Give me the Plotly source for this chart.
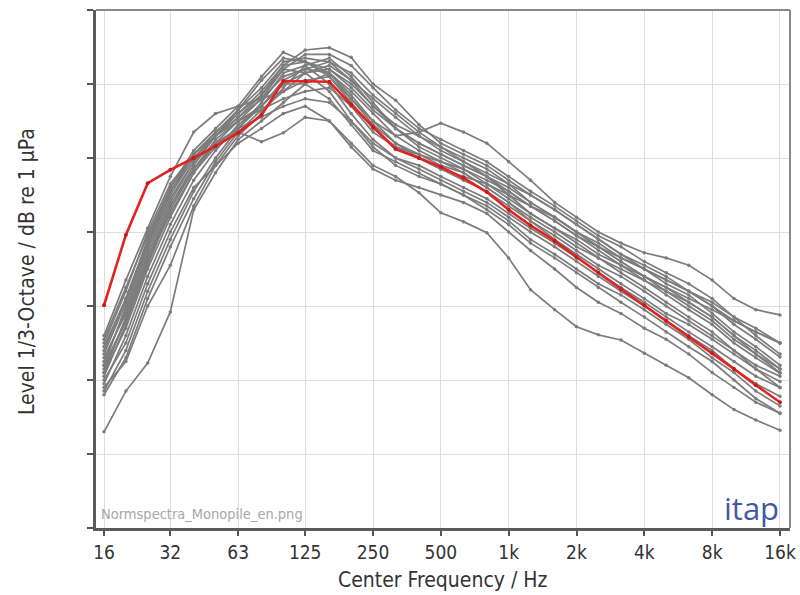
import plotly.graph_objects as go

freqs = [16, 20, 25, 31.5, 40, 50, 63, 80, 100, 125, 160, 200, 250, 315, 400, 500,
         630, 800, 1000, 1250, 1600, 2000, 2500, 3150, 4000, 5000, 6300, 8000, 10000, 12500, 16000]

tick_vals = [16, 31.5, 63, 125, 250, 500, 1000, 2000, 4000, 8000, 16000]
tick_text = ["16", "32", "63", "125", "250", "500", "1k", "2k", "4k", "8k", "16k"]

# mean / normalized spectrum (red)
norm_spectrum = [130.1, 139.6, 146.6, 148.4, 150.0, 151.6, 153.4, 155.8, 160.4, 160.4, 160.3, 157.2,
                 154.2, 151.2, 150.0, 148.8, 147.3, 145.4, 143.0, 140.9, 138.8, 136.6, 134.5, 132.3,
                 130.1, 128.0, 125.8, 123.6, 121.5, 119.3, 117.0]

# individual measured spectra (gray)
g01 = [113.0,118.5,122.3,129.2,143.0,148.0,152.5,155.0,157.5,160.0,161.5,158.5,155.0,152.0,150.0,148.5,147.0,145.5,143.5,141.5,139.5,137.5,135.5,134.0,132.0,130.0,128.0,126.0,124.0,122.0,120.5]
g02 = [119.0,122.5,130.0,135.5,143.5,149.0,153.0,156.0,159.5,162.5,163.5,161.0,157.5,154.0,151.5,150.0,148.5,146.5,144.5,142.5,140.5,139.0,137.0,135.5,134.0,132.0,130.5,128.5,126.0,124.0,121.5]
g03 = [122.0,130.0,138.0,145.0,150.0,153.0,155.5,158.0,161.0,162.0,161.5,158.0,155.0,153.0,153.5,154.7,153.5,152.0,149.5,147.0,144.0,142.0,140.0,138.5,137.2,136.5,135.5,133.5,131.0,129.5,128.8]
g04 = [120.0,125.0,133.0,140.0,146.0,149.0,152.0,154.0,156.0,157.0,155.0,152.0,149.0,147.5,145.3,142.6,141.4,139.9,136.5,132.2,129.5,127.2,126.1,125.4,123.6,122.0,120.3,118.0,116.0,114.6,113.2]
g05 = [124.0,131.0,139.0,146.0,151.0,154.0,157.0,161.0,164.3,163.0,162.0,160.0,157.0,154.0,152.0,150.5,149.0,147.5,145.5,143.5,141.5,139.5,137.5,135.5,133.5,131.5,129.5,127.5,125.0,123.0,120.9]
g06 = [121.5,128.0,136.0,143.5,149.0,153.0,156.0,159.0,162.5,164.6,164.9,163.6,160.0,157.8,154.5,152.0,150.5,149.0,147.0,145.0,143.0,141.0,139.0,137.0,135.0,133.5,132.0,130.0,127.5,125.5,123.1]
g07 = [123.0,129.0,137.0,144.0,149.5,152.0,153.5,152.2,153.4,155.5,155.0,151.5,148.5,147.0,146.0,145.0,144.0,142.5,140.0,137.5,135.0,132.5,130.5,129.0,127.0,125.5,123.5,121.0,119.0,117.0,115.5]
g08 = [125.0,132.0,140.0,146.5,150.5,153.5,156.5,159.5,163.0,163.5,163.0,160.5,157.0,154.5,153.0,151.5,150.0,148.5,146.5,144.0,142.0,140.0,138.5,136.5,135.0,133.5,132.0,130.5,128.5,127.0,125.0]
g09 = [118.5,124.0,132.0,139.0,145.5,150.0,154.0,157.5,161.5,162.5,160.0,156.0,152.5,150.0,148.5,147.0,145.5,144.0,142.0,140.0,138.0,136.0,134.0,132.0,130.0,128.0,126.0,124.0,121.5,119.5,117.8]
g10 = [121.0,127.0,135.0,142.0,148.0,152.0,155.0,158.0,162.0,161.5,159.0,155.0,151.5,149.0,147.5,146.5,145.0,143.5,141.5,139.0,137.0,135.0,133.0,131.5,129.5,127.5,125.5,123.0,121.0,118.5,116.5]
g11 = [126.0,133.5,140.5,147.5,153.5,156.0,157.0,158.0,159.0,161.5,162.5,160.5,158.0,155.5,153.0,151.0,149.5,148.0,146.5,145.0,143.0,141.0,139.0,137.0,135.5,134.0,132.0,130.0,128.0,126.5,125.0]
g12 = [119.5,126.0,134.0,141.0,147.0,151.0,154.5,157.0,160.0,160.0,158.0,154.5,151.0,149.5,148.0,146.5,145.0,143.0,141.0,138.5,136.5,134.5,132.5,130.5,128.5,126.5,124.5,122.5,120.0,117.5,115.5]
g13 = [122.5,129.5,137.5,144.5,149.5,153.0,156.5,160.5,163.5,163.0,161.0,157.5,154.0,151.5,150.0,148.5,147.5,146.5,145.0,143.5,141.5,139.5,138.0,136.5,135.0,133.0,131.5,129.0,126.5,124.5,122.0]
g14 = [120.5,127.5,135.5,143.0,148.5,152.5,155.0,156.5,158.0,159.0,159.5,157.0,153.5,151.5,150.5,149.5,148.5,147.0,145.5,143.5,142.0,140.0,138.0,136.0,134.0,132.5,131.0,129.5,128.0,126.5,125.0]
g15 = [124.5,131.0,138.5,145.5,150.0,153.0,155.0,157.0,160.5,162.0,163.0,161.5,158.5,156.0,153.5,151.5,149.5,147.5,145.0,142.5,140.5,138.5,136.5,134.5,132.5,130.5,128.5,126.5,124.0,121.5,119.0]
g16 = [118.0,123.0,131.0,138.0,144.5,149.5,153.5,156.5,159.0,160.5,161.0,158.0,154.5,152.0,150.5,149.0,148.0,146.0,144.0,142.0,140.0,138.0,136.5,135.0,133.5,132.0,130.0,128.0,125.5,123.5,121.0]
g17 = [123.5,130.5,138.5,145.5,150.5,153.5,156.0,158.5,162.0,164.0,164.0,162.5,159.5,156.5,154.0,152.5,151.0,149.5,147.5,145.5,143.5,141.5,139.5,138.0,136.0,134.5,133.0,131.0,128.5,126.0,123.5]
g18 = [121.0,128.5,136.5,143.5,148.5,152.0,154.0,155.5,157.0,158.0,157.5,155.0,152.0,150.0,149.0,147.5,146.0,144.5,142.5,140.5,138.5,136.5,134.5,132.5,130.5,128.5,126.5,124.5,122.5,120.5,119.0]
g19 = [125.5,132.5,139.5,146.0,150.5,153.0,155.5,158.5,162.5,163.0,161.5,159.0,156.0,153.0,151.0,149.5,148.0,146.0,144.0,141.5,139.0,137.0,135.0,133.0,131.0,129.0,127.5,125.5,123.5,121.5,119.8]
g20 = [122.0,128.0,136.0,142.5,148.0,151.5,154.0,157.0,160.0,161.5,162.0,159.5,156.5,154.0,152.0,150.5,149.0,147.5,146.0,144.0,142.0,140.0,138.0,136.0,134.0,132.5,130.5,128.5,126.0,123.5,121.5]

gray_series = [g01, g02, g03, g04, g05, g06, g07, g08, g09, g10,
               g11, g12, g13, g14, g15, g16, g17, g18, g19, g20]

FONT = "DejaVu Sans Condensed, Liberation Sans Narrow, Arial Narrow, sans-serif"
TXT = "#333333"

fig = go.Figure()
for s in gray_series:
    fig.add_trace(go.Scatter(
        x=freqs, y=s, mode="lines+markers",
        line=dict(color="#7c7c7c", width=1.7),
        marker=dict(color="#7c7c7c", size=3.5),
        showlegend=False, hoverinfo="skip"))

fig.add_trace(go.Scatter(
    x=freqs, y=norm_spectrum, mode="lines+markers",
    line=dict(color="#e3231f", width=2.6),
    marker=dict(color="#c81b17", size=4),
    showlegend=False))

fig.update_layout(
    width=800, height=595,
    margin=dict(l=96, r=10, t=10, b=67, autoexpand=False),
    paper_bgcolor="white", plot_bgcolor="white",
    font=dict(family=FONT, color=TXT, size=19),
    xaxis=dict(
        type="log", range=[1.1685, 4.2486], automargin=False,
        tickvals=tick_vals, ticktext=tick_text,
        ticks="outside", ticklen=5, tickwidth=2, tickcolor="#555555",
        showgrid=True, gridcolor="#dedede", gridwidth=1,
        showline=True, linecolor="#5a5a5a", linewidth=3,
        zeroline=False,
        tickfont=dict(size=19, color=TXT, family=FONT),
    ),
    yaxis=dict(
        range=[100, 170], dtick=10, tick0=100, automargin=False,
        showticklabels=False,
        ticks="outside", ticklen=6, tickwidth=2, tickcolor="#555555",
        showgrid=True, gridcolor="#dedede", gridwidth=1,
        showline=True, linecolor="#5a5a5a", linewidth=3,
        zeroline=False,
    ),
    shapes=[
        dict(type="line", xref="paper", yref="paper", x0=0, x1=1, y0=1, y1=1,
             line=dict(color="#8a8a8a", width=2)),
        dict(type="line", xref="paper", yref="paper", x0=1, x1=1, y0=0, y1=1,
             line=dict(color="#8a8a8a", width=2)),
    ],
    annotations=[
        dict(text="Level 1/3-Octave / dB re 1 µPa", textangle=-90,
             xref="paper", yref="paper", x=-0.0994, y=0.494,
             xanchor="center", yanchor="middle", showarrow=False,
             font=dict(size=21, color=TXT, family=FONT)),
        dict(text="Center Frequency / Hz",
             xref="paper", yref="paper", x=0.5, y=-0.1004,
             xanchor="center", yanchor="middle", showarrow=False,
             font=dict(size=21, color=TXT, family=FONT)),
        dict(text="Normspectra_Monopile_en.png",
             xref="paper", yref="paper", x=0.004, y=0.008,
             xanchor="left", yanchor="bottom", showarrow=False,
             font=dict(size=14.5, color="#a8a8a8", family=FONT)),
        dict(text="itap",
             xref="paper", yref="paper", x=0.987, y=-0.006,
             xanchor="right", yanchor="bottom", showarrow=False,
             font=dict(size=31, color="#4259a6", family="Open Sans, sans-serif")),
    ],
)

fig.write_html("out.html",
               config={"displayModeBar": False, "responsive": False},
               post_script="document.body.style.margin='0';document.body.style.overflow='hidden';")
